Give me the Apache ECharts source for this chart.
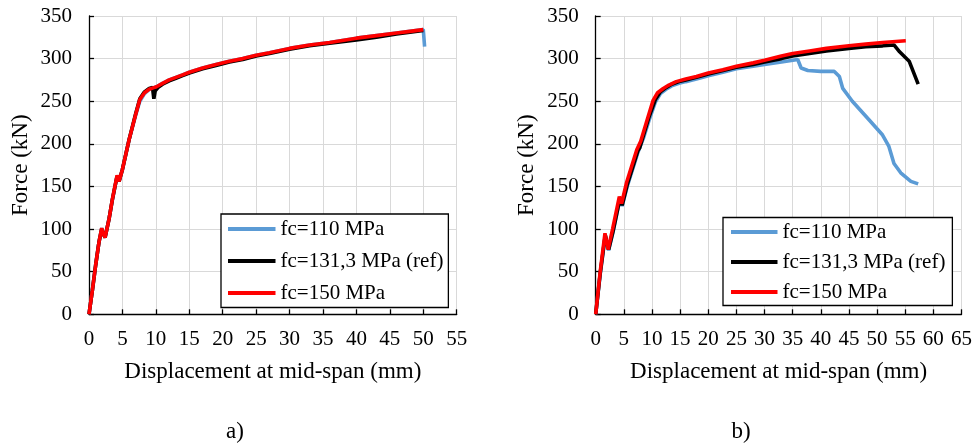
<!DOCTYPE html>
<html><head><meta charset="utf-8">
<script src="https://cdn.jsdelivr.net/npm/echarts@6/dist/echarts.min.js"></script>
<style>html,body{margin:0;padding:0;background:#fff}#c{width:975px;height:448px}</style>
</head><body><div id="c"></div>
<script>
// ---- Data ----
var seriesNames = ['fc=110 MPa', 'fc=131,3 MPa (ref)', 'fc=150 MPa'];
var yTicks = [0, 50, 100, 150, 200, 250, 300, 350];
var xTicksA = [0, 5, 10, 15, 20, 25, 30, 35, 40, 45, 50, 55];
var xTicksB = [0, 5, 10, 15, 20, 25, 30, 35, 40, 45, 50, 55, 60, 65];

// chart a)
var aX110 = [0,0.5,1,1.5,1.9,2.1,2.4,3,3.5,4.2,4.5,5,6,7,7.6,8.3,9,9.7,10.1,11,12,13,14,15,17,19,21,23,25,27,30,33,36,40,43,46,48,50,50.2];
var aY110 = [0,28,58,85,101,95,90,112,134,162,156,170,205,234,250,259,264,266,267,271,275,278,281,284,289,293,297,300,304,307,312,316,319,324,327,330,332,334,314];
var aX131 = [0,0.5,1,1.5,1.9,2.1,2.4,3,3.5,4.2,4.5,5,6,7,7.6,8.3,9,9.5,9.7,9.9,10.3,11,12,13,14,15,17,19,21,23,25,27,30,33,36,40,43,46,48,50];
var aY131 = [0,28,58,85,100,95,90,112,135,162,156,170,205,236,253,261,265,266,253,262,266,270,274,277,280,283,288,292,296,299,303,306,311,315,318,322,325,329,331,333];
var aX150 = [0,0.5,1,1.5,1.9,2.1,2.4,3,3.5,4.2,4.5,5,6,7,7.6,8.3,9,9.7,10.1,11,12,13,14,15,17,19,21,23,25,27,30,33,36,40,43,46,48,50];
var aY150 = [0,28,58,85,101,95,90,112,135,163,156,170,205,235,252,260,264,266,267,271,275,278,281,284,289,293,297,300,304,307,312,316,319,324,327,330,332,334];

// chart b)
var bX110 = [0,0.8,1.7,2.3,3.1,4.3,4.7,5.6,7.5,8.5,9.5,10.6,11.5,12.5,13.5,14.8,16,17.9,20,22.6,25,28,30,33,35.9,36.5,37.7,40,42.4,43.3,43.9,45.6,48.6,50.9,52.1,53,54.2,56,57.3];
var bY110 = [0,47,92,75,97,135,127,150,190,207,228,249,259,264,268,271,273,276,280,284,288,291,293,296,299,289,286,285,285,279,265,250,228,211,197,177,166,156,153];
var bX131 = [0,0.8,1.7,2.3,3.1,4.3,4.7,5.6,7.5,7.8,8.5,9.5,10.6,11.5,12.5,13.5,14.8,16,17.9,20,22.6,25,28,30,33,35,38,41,45,48,51,53,54,55.7,57.3];
var bY131 = [0,48,93,76,98,136,128,152,192,195,210,232,252,261,266,270,273,275,278,282,286,290,293,296,300,303,306,309,312,314,315,316,308,297,270];
var bX150 = [0,0.8,1.65,2.2,3,4.2,4.6,5.5,7.3,8,9,10.2,11,12,13,14.3,16,17.9,20,22.6,25,28,30,33,35,38,41,45,48,51,55.1];
var bY150 = [0,50,95,76,100,138,130,155,193,203,225,251,260,265,269,273,276,279,283,287,291,295,298,303,306,309,312,315,317,319,321];

// ---- Chart ----
var FONT = 'Liberation Serif';
var colors = ['#5B9BD5', '#000000', '#FF0000'];
function zip(xs, ys) { return xs.map(function (x, i) { return [x, ys[i]]; }); }

function xAxisCfg(gi, ticks) {
  return {
    type: 'value', gridIndex: gi, min: ticks[0], max: ticks[ticks.length - 1], interval: ticks[1] - ticks[0],
    name: 'Displacement at mid-span (mm)', nameLocation: 'middle', nameGap: 46,
    nameTextStyle: { fontFamily: FONT, fontSize: 23, color: '#000' },
    axisLine: { show: true, onZero: false, lineStyle: { color: '#000', width: 1.3 } },
    axisTick: { show: true, inside: true, length: 5, lineStyle: { color: '#000', width: 1.3 } },
    axisLabel: { fontFamily: FONT, fontSize: 21, color: '#000', margin: 15 },
    splitLine: { show: true, lineStyle: { color: '#d9d9d9', width: 1 } }
  };
}
function yAxisCfg(gi) {
  return {
    type: 'value', gridIndex: gi, min: yTicks[0], max: yTicks[yTicks.length - 1], interval: yTicks[1] - yTicks[0],
    name: 'Force (kN)', nameLocation: 'middle', nameGap: 57, nameRotate: 90,
    nameTextStyle: { fontFamily: FONT, fontSize: 23, color: '#000' },
    axisLine: { show: true, lineStyle: { color: '#000', width: 1.3 } },
    axisTick: { show: true, inside: true, length: 5, lineStyle: { color: '#000', width: 1.3 } },
    axisLabel: { fontFamily: FONT, fontSize: 21, color: '#000', margin: 17 },
    splitLine: { show: true, lineStyle: { color: '#d9d9d9', width: 1 } }
  };
}
function lineSeries(name, gi, data, ci) {
  return {
    type: 'line', name: name, xAxisIndex: gi, yAxisIndex: gi, data: data,
    showSymbol: false, symbol: 'none', animation: false,
    lineStyle: { color: colors[ci], width: 3.6 }, itemStyle: { color: colors[ci] }
  };
}
function legendCfg(left, top, gap, pad, iw) {
  return {
    left: left, top: top, orient: 'vertical', icon: 'rect', itemWidth: iw, itemHeight: 4,
    itemGap: gap, padding: pad, borderColor: '#000', borderWidth: 1.3, backgroundColor: '#fff',
    selectedMode: false,
    textStyle: { fontFamily: FONT, fontSize: 21, color: '#000', lineHeight: 21 },
    data: seriesNames
  };
}

var chart = echarts.init(document.getElementById('c'), null, { renderer: 'canvas' });
chart.setOption({
  backgroundColor: '#fff',
  animation: false,
  grid: [
    { left: 89, top: 16, width: 367.7, height: 298.3, containLabel: false },
    { left: 595.7, top: 16, width: 367, height: 298.3, containLabel: false }
  ],
  xAxis: [xAxisCfg(0, xTicksA), xAxisCfg(1, xTicksB)],
  yAxis: [yAxisCfg(0), yAxisCfg(1)],
  legend: [legendCfg(221, 214, 11, [4.5, 5, 4, 7], 47.5), legendCfg(723, 217.5, 9, [4, 7, 3, 8], 46.5)],
  series: [
    lineSeries(seriesNames[0], 0, zip(aX110, aY110), 0),
    lineSeries(seriesNames[1], 0, zip(aX131, aY131), 1),
    lineSeries(seriesNames[2], 0, zip(aX150, aY150), 2),
    lineSeries(seriesNames[0], 1, zip(bX110, bY110), 0),
    lineSeries(seriesNames[1], 1, zip(bX131, bY131), 1),
    lineSeries(seriesNames[2], 1, zip(bX150, bY150), 2)
  ],
  graphic: [
    { type: 'text', x: 235, y: 432, style: { text: 'a)', font: '23px "Liberation Serif"', fill: '#000', align: 'center', verticalAlign: 'middle' } },
    { type: 'text', x: 741, y: 432, style: { text: 'b)', font: '23px "Liberation Serif"', fill: '#000', align: 'center', verticalAlign: 'middle' } }
  ]
});
</script>
</body></html>
